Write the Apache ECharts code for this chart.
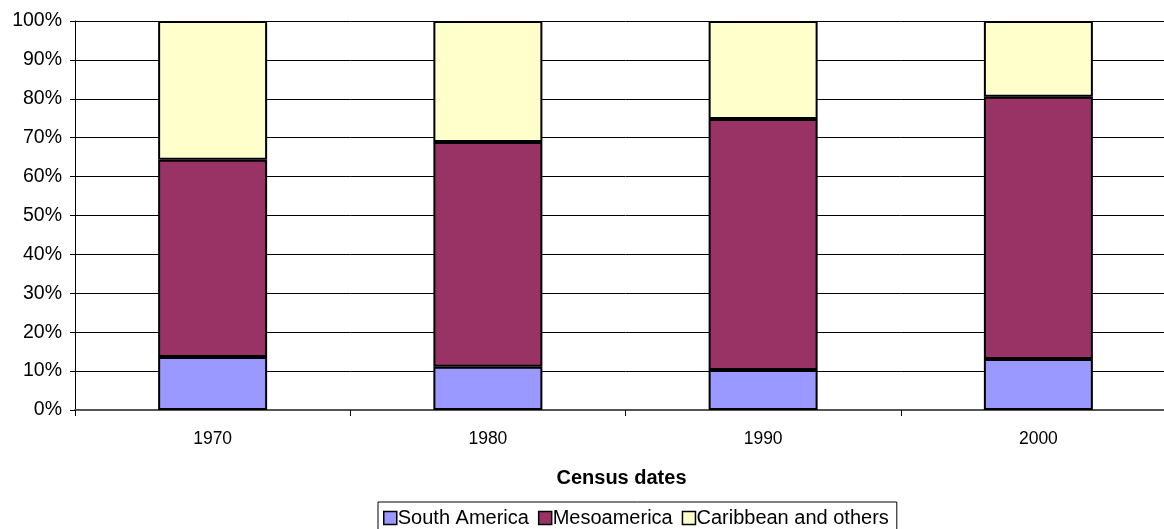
<!DOCTYPE html>
<html><head><meta charset="utf-8">
<script src="https://cdn.jsdelivr.net/npm/echarts@6/dist/echarts.min.js"></script>
<style>html,body{margin:0;padding:0;background:#fff;overflow:hidden;width:1164px;height:529px}#c{width:1176px;height:529px}</style>
</head><body><div id="c"></div>
<script>
const categories = ['1970', '1980', '1990', '2000'];
const southAmerica = [13.6, 11.1, 10.3, 13.1];
const mesoamerica = [50.7, 57.8, 64.5, 67.4];
const caribbean = [35.7, 31.1, 25.2, 19.5];
const yTicks = [0, 10, 20, 30, 40, 50, 60, 70, 80, 90, 100];

const font = 'Liberation Sans, Arial, sans-serif';
const chart = echarts.init(document.getElementById('c'));
const barStyle = (c) => ({ color: c, borderColor: '#000', borderWidth: 2 });
chart.setOption({
  animation: false,
  grid: { left: 75, top: 21, right: 0, height: 389, containLabel: false },
  legend: {
    top: 502, left: 378,
    itemWidth: 13, itemHeight: 13, itemGap: 9,
    borderColor: '#000', borderWidth: 1, padding: [6, 8, 10, 5],
    textStyle: { fontFamily: font, fontSize: 20, color: '#000', padding: [0, 0, 0, -4] },
    icon: 'rect',
    itemStyle: { borderWidth: 1.5, borderColor: '#000' },
    data: ['South America', 'Mesoamerica', 'Caribbean and others']
  },
  xAxis: {
    type: 'category', data: categories,
    name: 'Census dates', nameLocation: 'middle', nameGap: 58,
    nameTextStyle: { fontFamily: font, fontSize: 20, fontWeight: 'bold', color: '#000', padding: [0, 8, 0, 0] },
    axisLine: { lineStyle: { color: '#555', width: 2 } },
    axisTick: { show: true, length: 6, lineStyle: { color: '#000' }, alignWithLabel: false },
    axisLabel: { fontFamily: font, fontSize: 17.5, color: '#000', margin: 20 }
  },
  yAxis: {
    type: 'value', min: 0, max: 100, interval: 10,
    axisLine: { show: true, lineStyle: { color: '#000', width: 1 } },
    axisTick: { show: true, length: 5, lineStyle: { color: '#000' } },
    axisLabel: { fontFamily: font, fontSize: 19.5, color: '#000', margin: 13,
      formatter: (v) => yTicks.includes(v) ? v + '%' : '' },
    splitLine: { lineStyle: { color: '#000', width: 1 } }
  },
  series: [
    { name: 'South America', type: 'bar', stack: 's', data: southAmerica, barWidth: 109, itemStyle: barStyle('#9999FF') },
    { name: 'Mesoamerica', type: 'bar', stack: 's', data: mesoamerica, barWidth: 109, itemStyle: barStyle('#993366') },
    { name: 'Caribbean and others', type: 'bar', stack: 's', data: caribbean, barWidth: 109, itemStyle: barStyle('#FFFFCC') }
  ]
});
</script></body></html>
